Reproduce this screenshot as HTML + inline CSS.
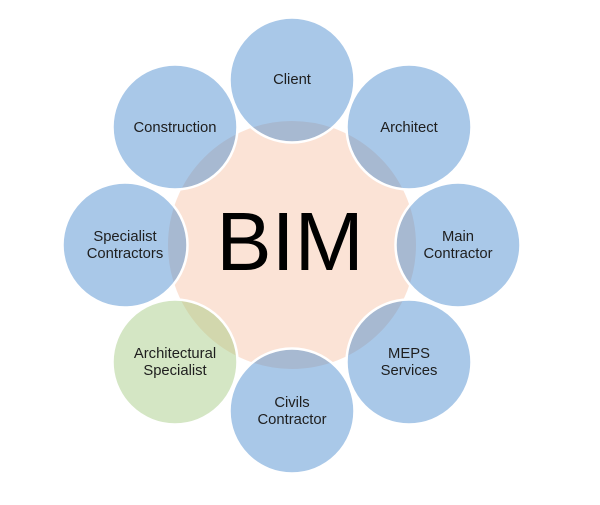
<!DOCTYPE html>
<html>
<head>
<meta charset="utf-8">
<style>
  html, body { margin:0; padding:0; background:#ffffff; }
  body { width:600px; height:505px; overflow:hidden; }
  svg { display:block; }
  text { font-family: "Liberation Sans", Arial, sans-serif; fill:#1e1e1e; }
</style>
</head>
<body>
<svg width="600" height="505" viewBox="0 0 600 505" xmlns="http://www.w3.org/2000/svg">
  <rect x="0" y="0" width="600" height="505" fill="#ffffff"/>
  <!-- center hub -->
  <circle cx="292" cy="245" r="125" fill="#fbe3d6" stroke="#ffffff" stroke-width="2"/>

  <!-- outer circles -->
  <g stroke="#ffffff" stroke-width="2.5">
    <circle cx="292" cy="80" r="62.5" fill="rgba(64,132,205,0.45)"/>
    <circle cx="409" cy="127" r="62.5" fill="rgba(64,132,205,0.45)"/>
    <circle cx="458" cy="245" r="62.5" fill="rgba(64,132,205,0.45)"/>
    <circle cx="409" cy="362" r="62.5" fill="rgba(64,132,205,0.45)"/>
    <circle cx="292" cy="411" r="62.5" fill="rgba(64,132,205,0.45)"/>
    <circle cx="175" cy="362" r="62.5" fill="rgba(160,199,124,0.45)"/>
    <circle cx="125" cy="245" r="62.5" fill="rgba(64,132,205,0.45)"/>
    <circle cx="175" cy="127" r="62.5" fill="rgba(64,132,205,0.45)"/>
  </g>

  <!-- BIM -->
  <text x="290" y="270" text-anchor="middle" font-size="83" style="fill:#000000">BIM</text>

  <!-- labels -->
  <g font-size="14.8" text-anchor="middle">
    <text x="292" y="84">Client</text>
    <text x="409" y="132">Architect</text>
    <text x="175" y="132">Construction</text>

    <text x="458" y="241">Main</text>
    <text x="458" y="258">Contractor</text>

    <text x="125" y="241">Specialist</text>
    <text x="125" y="258">Contractors</text>

    <text x="409" y="358">MEPS</text>
    <text x="409" y="375">Services</text>

    <text x="175" y="358">Architectural</text>
    <text x="175" y="375">Specialist</text>

    <text x="292" y="407">Civils</text>
    <text x="292" y="424">Contractor</text>
  </g>
</svg>
</body>
</html>
